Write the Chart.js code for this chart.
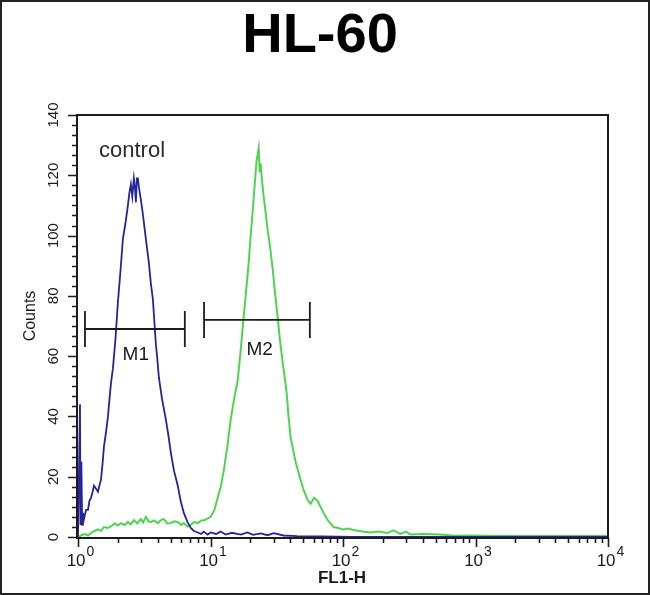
<!DOCTYPE html>
<html>
<head>
<meta charset="utf-8">
<title>HL-60</title>
<script src="https://cdn.jsdelivr.net/npm/chart.js@4/dist/chart.umd.min.js"></script>
<style>
  html, body { margin: 0; padding: 0; background: #fff; }
  #wrap { width: 650px; height: 595px; }
</style>
</head>
<body>
<div id="wrap"><canvas id="histChart" width="650" height="595"></canvas></div>
<script>
// ---- data (x = FL1-H, y = Counts) ----
const blueX = [1.0, 1.035, 1.045, 1.06, 1.075, 1.09, 1.11, 1.15, 1.19, 1.22, 1.253, 1.29, 1.32, 1.37, 1.415, 1.45, 1.49, 1.53, 1.57,
  1.63, 1.683, 1.73, 1.773, 1.835, 1.92, 2.001, 2.09, 2.183, 2.28, 2.38, 2.44, 2.507, 2.57, 2.641, 2.69, 2.735, 2.78, 2.831, 2.881,
  2.98, 3.088, 3.25, 3.426, 3.55, 3.673, 3.869, 3.97, 4.076, 4.3, 4.602, 4.8, 5.019, 5.3, 5.666, 5.95, 6.288, 6.7, 7.099, 7.5,
  8.017, 8.5, 8.897, 9.5, 10.04, 11, 11.95, 13, 14.5, 16.9, 19, 21, 23.9, 27, 30, 35.6, 45, 67.7, 120, 300, 1000, 10000];
const blueY = [0, 44, 4, 25, 4, 8, 6, 9, 9, 12, 13, 15, 17, 16, 15, 17, 19, 24, 30,
  35, 40, 46, 51, 56, 66, 78, 88, 99, 104, 110, 114, 117, 113, 119, 116, 111, 119, 119, 116,
  112, 107, 99, 91, 84, 79, 64, 59, 53, 46, 39, 34, 28, 22, 17, 12, 8, 5, 3, 2,
  1.5, 1, 1.8, 0.8, 1.5, 1, 1.8, 0.8, 1.4, 0.8, 1.5, 0.7, 1.2, 0.6, 1.3, 0.5, 0.3, 0.2, 0, 0, 0, 0];

const greenX = [1.0, 1.053, 1.12, 1.19, 1.253, 1.33, 1.415, 1.49, 1.57, 1.68, 1.773, 1.9, 2.0, 2.109, 2.25, 2.38, 2.5, 2.641, 2.8, 2.984,
  3.1, 3.253, 3.4, 3.548, 3.75, 4.006, 4.2, 4.445, 4.7, 5.019, 5.3, 5.666, 6.0, 6.288, 6.7, 7.099, 7.5, 8.017, 8.5, 8.897,
  9.4, 10.04, 10.7, 11.34, 12.0, 12.59, 13.4, 14.21, 15.1, 16.05, 16.9, 17.8, 18.6, 19.42, 20.1, 20.81, 21.3, 21.93, 22.3, 22.7,
  23.1, 23.5, 23.91, 24.5, 25.19, 26.0, 27.0, 28.2, 29.44, 30.7, 32.11, 33.5, 35.03, 36.3, 37.54, 38.8, 40.23, 42, 43.87, 45.8,
  47.84, 50, 52.18, 54.5, 56.91, 60.5, 64.27, 67.7, 71.31, 77, 84.8, 92, 100.9, 110, 120, 140, 161, 185, 216, 240,
  271, 300, 322, 400, 542, 700, 913, 1537, 3000, 10000];
const greenY = [0, 0.5, 1, 0.5, 1.3, 2, 2.5, 2, 3.3, 3, 3.5, 4.5, 3.8, 4.6, 4, 5, 4.2, 5.6, 4.5, 6,
  4.8, 6.7, 5.2, 5, 5.5, 4.6, 5.5, 6, 4.5, 4.6, 5.2, 5, 4, 4.6, 3.5, 4, 5, 4.6, 5.5, 5.5,
  6, 6.7, 9, 13, 17, 22, 30, 39, 46, 52, 62, 73, 82, 91, 100, 108, 114, 121, 125, 127,
  129, 121, 124, 118, 113, 108, 102, 96, 89, 81, 73, 65, 58, 53, 48, 40, 33, 29, 25, 22,
  19, 16, 14, 12, 11, 13, 12, 10, 8, 5.5, 3.3, 3, 2.5, 2.8, 2.3, 1.8, 1.5, 1.8, 1.3, 2.2,
  1, 1.8, 0.8, 1, 0.8, 0.4, 0.5, 0.3, 0.3, 0.3];

// marker gates M1 / M2: [from, to], level, cap half height
const markerNames = ["M1", "M2"];
const markerRanges = [[1.129, 6.40], [8.94, 56.2]];
const markerLevels = [69, 72];
const markerCap = 6;
const markerLabelPos = [[2.73, 60.4], [23.5, 62]];

// tick labels
const yTickValues = [0, 20, 40, 60, 80, 100, 120, 140];
const yTickLabels = ["0", "20", "40", "60", "80", "100", "120", "140"];
const xTickValues = [1, 10, 100, 1000, 10000];
const xTickBase = "10";
const xTickExps = ["0", "1", "2", "3", "4"];

const titleText = "HL-60";
const xTitle = "FL1-H";
const yTitle = "Counts";
const controlText = "control";
const controlPos = [1.44, 126];

const FONT = "'Liberation Sans', Arial, sans-serif";
const NARROW = "'Liberation Sans Narrow', " + FONT;

function toPoints(xs, ys) {
  return xs.map((x, i) => ({ x: x, y: ys[i] }));
}

// gate as one polyline: cap, null, bar, null, cap
function markerPoints(k) {
  const [a, b] = markerRanges[k];
  const lv = markerLevels[k];
  return [
    { x: a, y: lv + markerCap }, { x: a, y: lv - markerCap }, { x: a, y: null },
    { x: a, y: lv }, { x: b, y: lv }, { x: b, y: null },
    { x: b, y: lv + markerCap }, { x: b, y: lv - markerCap }
  ];
}

// frame, ticks, labels, title
const decorPlugin = {
  id: "decor",
  afterDraw(chart) {
    const ctx = chart.ctx;
    const xs = chart.scales.x, ys = chart.scales.y;
    const a = chart.chartArea;
    ctx.save();

    // plot box
    ctx.strokeStyle = "#1c1c1c";
    ctx.lineWidth = 2;
    ctx.strokeRect(a.left - 1, a.top, a.right - a.left + 1, a.bottom - a.top + 1);

    // y ticks (major every 20, minor in between)
    ctx.lineWidth = 1.6;
    ctx.beginPath();
    for (let v = 0; v <= 140.001; v += 20 / 6) {
      const py = Math.round(ys.getPixelForValue(v)) + 0.5;
      const major = Math.abs(v / 20 - Math.round(v / 20)) < 0.01;
      ctx.moveTo(a.left - 1, py);
      ctx.lineTo(a.left - (major ? 10 : 6), py);
    }
    // x ticks (decades + 2..9)
    for (let d = 0; d < 4; d++) {
      for (let m = 1; m <= 9; m++) {
        const px = Math.round(xs.getPixelForValue(m * Math.pow(10, d))) + 0.5;
        ctx.moveTo(px, a.bottom + 1);
        ctx.lineTo(px, a.bottom + (m === 1 ? 10 : 6));
      }
    }
    const pEnd = Math.round(xs.getPixelForValue(10000)) + 0.5;
    ctx.moveTo(pEnd, a.bottom + 1);
    ctx.lineTo(pEnd, a.bottom + 10);
    ctx.stroke();

    ctx.fillStyle = "#1a1a1a";

    // y tick labels, rotated
    ctx.font = "15px " + FONT;
    ctx.textAlign = "center";
    ctx.textBaseline = "middle";
    yTickValues.forEach((v, i) => {
      ctx.save();
      ctx.translate(54, ys.getPixelForValue(v));
      ctx.rotate(-Math.PI / 2);
      ctx.fillText(yTickLabels[i], 0, 0);
      ctx.restore();
    });

    // y title
    ctx.save();
    ctx.font = "16px " + FONT;
    ctx.translate(31, 316);
    ctx.rotate(-Math.PI / 2);
    ctx.fillText(yTitle, 0, 0);
    ctx.restore();

    // x tick labels: 10 with superscript
    ctx.textBaseline = "alphabetic";
    ctx.textAlign = "left";
    xTickValues.forEach((v, i) => {
      const px = xs.getPixelForValue(v);
      ctx.font = "17px " + FONT;
      const wBase = ctx.measureText(xTickBase).width;
      ctx.font = "14px " + FONT;
      const wExp = ctx.measureText(xTickExps[i]).width;
      const left = px - (wBase + wExp) / 2 + 2;
      ctx.font = "17px " + FONT;
      ctx.fillText(xTickBase, left, 566);
      ctx.font = "14px " + FONT;
      ctx.fillText(xTickExps[i], left + wBase + 1, 556);
    });

    // x title
    ctx.textAlign = "center";
    ctx.font = "bold 17px " + NARROW;
    ctx.fillText(xTitle, 342, 583);

    // control label
    ctx.textAlign = "left";
    ctx.fillStyle = "#2a2a2a";
    ctx.font = "22px " + FONT;
    ctx.fillText(controlText, xs.getPixelForValue(controlPos[0]), ys.getPixelForValue(controlPos[1]));

    // M1 / M2 labels
    ctx.fillStyle = "#1a1a1a";
    ctx.textAlign = "center";
    ctx.textBaseline = "middle";
    ctx.font = "19px " + NARROW;
    markerNames.forEach((n, k) => {
      ctx.fillText(n, xs.getPixelForValue(markerLabelPos[k][0]), ys.getPixelForValue(markerLabelPos[k][1]));
    });

    // title
    ctx.fillStyle = "#000";
    ctx.textBaseline = "alphabetic";
    ctx.font = "bold 56px " + FONT;
    ctx.fillText(titleText, 320, 52);

    // picture border
    ctx.strokeStyle = "#222";
    ctx.lineWidth = 2;
    ctx.strokeRect(1, 1, chart.width - 2, chart.height - 2);

    ctx.restore();
  }
};

const markerColor = "#1c1c1c";

new Chart(document.getElementById("histChart"), {
  type: "line",
  data: {
    datasets: [
      { label: "control", data: toPoints(blueX, blueY), borderColor: "#25259a", borderWidth: 1.8, order: 1 },
      { label: "HL-60", data: toPoints(greenX, greenY), borderColor: "#4fd44f", borderWidth: 2, order: 2 },
      { label: "M1", data: markerPoints(0), borderColor: markerColor, borderWidth: 1.8, spanGaps: false, order: 0 },
      { label: "M2", data: markerPoints(1), borderColor: markerColor, borderWidth: 1.8, spanGaps: false, order: 0 }
    ]
  },
  options: {
    responsive: false,
    animation: false,
    layout: { padding: { left: 78, right: 42, top: 115, bottom: 58 } },
    elements: { point: { radius: 0 }, line: { tension: 0 } },
    plugins: { legend: { display: false }, tooltip: { enabled: false } },
    scales: {
      x: { type: "logarithmic", min: 1, max: 10000, display: false },
      y: { type: "linear", min: 0, max: 140, display: false }
    }
  },
  plugins: [decorPlugin]
});
</script>
</body>
</html>
